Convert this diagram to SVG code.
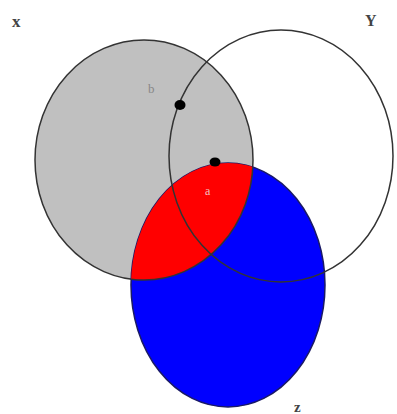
<svg xmlns="http://www.w3.org/2000/svg" width="397" height="414" viewBox="0 0 397 414">
<style>
.out{fill:none;stroke:#333;stroke-width:1.5}
.lbl{font-family:"Liberation Serif",serif;fill:#444}
.dot{fill:#000}
</style>
<defs>
<clipPath id="clipX"><ellipse cx="144" cy="160" rx="109" ry="120"/></clipPath>
<clipPath id="clipZ"><ellipse cx="228" cy="285" rx="97" ry="122"/></clipPath>
</defs>
<rect width="397" height="414" fill="#fff"/>
<g id="setX">
<ellipse cx="144" cy="160" rx="109" ry="120" fill="#c0c0c0" stroke="#333" stroke-width="1.5"/>
<text class="lbl" x="12" y="27" font-size="17" font-weight="bold">x</text>
</g>
<g id="setZ">
<ellipse cx="228" cy="285" rx="97" ry="122" fill="#0000ff" stroke="#1a1a66" stroke-width="1.5"/>
<text class="lbl" x="294" y="412" font-size="15" font-weight="bold">z</text>
</g>
<g id="regionA">
<ellipse cx="228" cy="285" rx="97" ry="122" fill="#ff0000" clip-path="url(#clipX)"/>
<ellipse class="out" cx="144" cy="160" rx="109" ry="120" clip-path="url(#clipZ)" stroke="#400"/>
<text x="205" y="195" font-family="Liberation Serif,serif" font-size="12" fill="#f0c0c0">a</text>
</g>
<g id="setY">
<ellipse class="out" cx="281" cy="156" rx="112" ry="126"/>
<text class="lbl" x="365" y="26" font-size="16" font-weight="bold">Y</text>
</g>
<g id="pointB">
<text x="148" y="93" font-family="Liberation Serif,serif" font-size="13" fill="#888">b</text>
<ellipse class="dot" cx="180" cy="105" rx="5.5" ry="5"/>
</g>
<g id="pointA">
<ellipse class="dot" cx="215" cy="162" rx="5.5" ry="4.5"/>
</g>
<g id="connectors"/>
</svg>
